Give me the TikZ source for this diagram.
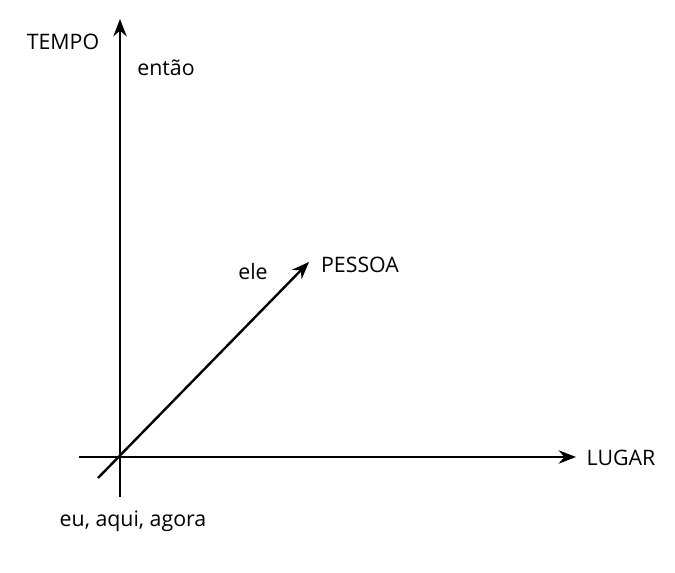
\documentclass[tikz,border=0pt]{standalone}
\usepackage{fontspec}
\setmainfont{Open Sans}
\usetikzlibrary{arrows.meta,positioning}

\begin{document}
\begin{tikzpicture}[
  x=0.75pt, y=-0.75pt,
  axisline/.style={line width=1.8pt, black},
  axisarrow/.style={axisline, -{Stealth[length=13pt, width=10pt]}},
  axislabel/.style={font=\fontsize{16}{19}\selectfont, inner sep=0pt},
]
\useasboundingbox (0,0) rectangle (675,573);

% Axis ends
\coordinate (origin) at (120,457);
\coordinate (tbot)   at (120,497);
\coordinate (ttop)   at (120,19);
\coordinate (lleft)  at (79,457);
\coordinate (lright) at (576,457);
\coordinate (pbot)   at (98,478);
\coordinate (ptop)   at (309,262);

% Axes
\draw[axisarrow] (tbot) -- (ttop);
\draw[axisarrow] (lleft) -- (lright);
\draw[axisarrow] (pbot) -- (ptop);

% Labels
\node[axislabel] (tempo)  at (63,42)   {TEMPO};
\node[axislabel] (entao)  at (166,68)  {então};
\node[axislabel] (ele)    at (253,272) {ele};
\node[axislabel] (pessoa) at (360,265) {PESSOA};
\node[axislabel] (lugar)  at (621,458) {LUGAR};
\node[axislabel] (euaqui) at (133,521) {eu, aqui, agora};
\end{tikzpicture}
\end{document}
